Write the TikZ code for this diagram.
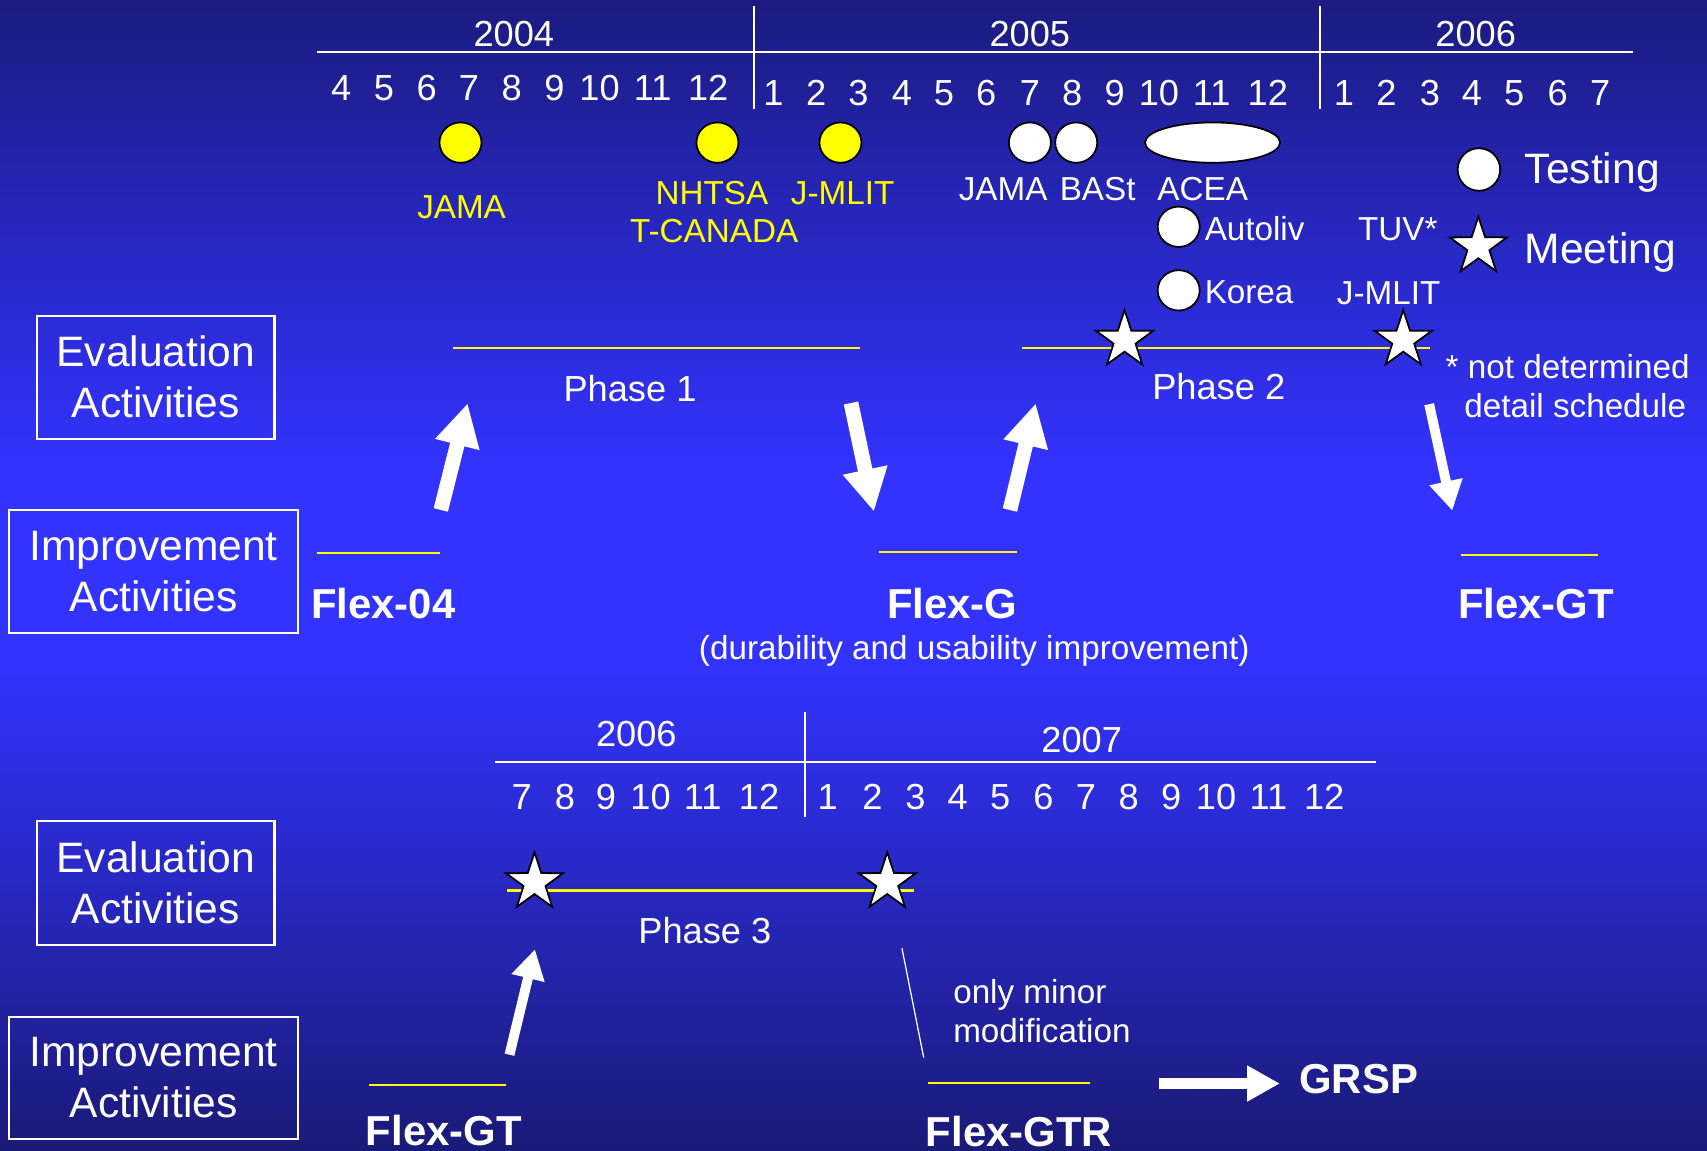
\documentclass[tikz,border=0pt]{standalone}
\usepackage{fontspec}
\setmainfont{Liberation Sans}
\usepackage{xcolor}
\usetikzlibrary{arrows.meta,shapes.geometric}
\definecolor{bgtop}{HTML}{1B1B80}
\definecolor{bgmid}{HTML}{3333FF}
\definecolor{bgbot}{HTML}{1A1A78}
\definecolor{tyellow}{HTML}{FFFF00}
\tikzset{
  yr/.style={text=white, font=\fontsize{10.3}{12}\selectfont, anchor=base, inner sep=0pt},
  org/.style={font=\fontsize{9.45}{11}\selectfont, anchor=base, inner sep=0pt},
  legend/.style={text=white, font=\fontsize{12.1}{14.5}\selectfont, anchor=base west, inner sep=0pt},
  flex/.style={text=white, font=\bfseries\fontsize{11.9}{14}\selectfont, anchor=base, inner sep=0pt},
  actbox/.style={draw=white, line width=0.6pt, text=white, align=center, inner sep=0pt,
    font=\fontsize{12.1}{14.5}\selectfont},
  testdot/.style={ellipse, draw=black, line width=0.5pt, fill=white, inner sep=0pt,
    minimum width=0.42cm, minimum height=0.403cm},
  meetstar/.style={star, star points=5, star point ratio=2.6, draw=black, fill=white,
    line width=0.5pt, inner sep=0pt, minimum size=0.601cm},
  rule/.style={draw=white, line width=0.45pt},
  bar/.style={draw=tyellow, line width=0.6pt},
  bigarrow/.style={draw=white, line width=4.18pt, -{Triangle[length=12.1pt, width=12.1pt]}},
  smallarrow/.style={draw=white, line width=2.8pt, -{Triangle[length=8.4pt, width=9.1pt]}}
}
\begin{document}
\begin{tikzpicture}[x=0.010887cm, y=-0.010887cm]
\useasboundingbox (0,0) rectangle (1568,1057);
\shade[top color=bgtop, bottom color=bgmid] (0,0) rectangle (1568,430);
\fill[bgmid] (0,430) rectangle (1568,610);
\shade[top color=bgmid, bottom color=bgbot] (0,610) rectangle (1568,1057);

% first schedule
\node[yr] (y2004) at (472,43) {2004};
\node[yr] (y2005) at (946,43) {2005};
\node[yr] (y2006) at (1355.5,43) {2006};
\draw[rule] (291,48) -- (1500,48);
\draw[rule] (692.7,5.5) -- (692.7,100);
\draw[rule] (1212.5,5.5) -- (1212.5,100);
\foreach \m/\x in {4/313.5,5/352.7,6/392,7/430.8,8/470,9/509.4,10/550.7,11/599.6,12/650.5}
  \node[yr] (ma\m) at (\x,92.5) {\m};
\foreach \m/\x in {1/710.5,2/749.8,3/788.5,4/828.5,5/867,6/906,7/946,8/985,9/1024,10/1064.6,11/1113,12/1164.6}
  \node[yr] (mb\m) at (\x,96.5) {\m};
\foreach \m/\x in {1/1234.5,2/1273.6,3/1313.6,4/1352,5/1391,6/1430.8,7/1470}
  \node[yr] (mc\m) at (\x,96.5) {\m};

\node[testdot, fill=tyellow] (tJAMA) at (423,131) {};
\node[testdot, fill=tyellow] (tNHTSA) at (659,131) {};
\node[testdot, fill=tyellow] (tJMLIT) at (772,131) {};
\node[testdot] (tJAMAb) at (946,131) {};
\node[testdot] (tBASt) at (988.6,131) {};
\node[testdot, minimum width=1.35cm] (tACEA) at (1113.8,131) {};
\node[testdot] (tAutoliv) at (1082.7,208.3) {};
\node[testdot] (tKorea) at (1082.7,266.7) {};
\node[org, text=tyellow] (lJAMA) at (424,200.5) {JAMA};
\node[org, text=tyellow] (lNHTSA) at (654,187.4) {NHTSA};
\node[org, text=tyellow] (lTCANADA) at (656,223.2) {T-CANADA};
\node[org, text=tyellow] (lJMLIT) at (774,187.4) {J-MLIT};
\node[org, text=white] (lJAMAb) at (921.5,184.6) {JAMA};
\node[org, text=white] (lBASt) at (1008.3,184.6) {BASt};
\node[org, text=white] (lACEA) at (1104.8,184.6) {ACEA};
\node[org, text=white, anchor=base west] (lAutoliv) at (1106,220.5) {Autoliv};
\node[org, text=white, anchor=base west] (lKorea) at (1106,278.6) {Korea};
\node[org, text=white] (lTUV) at (1284,221) {TUV*};
\node[org, text=white] (lJMLITb) at (1275.6,280) {J-MLIT};

\node[testdot, minimum width=0.425cm, minimum height=0.425cm] (kTest) at (1358.5,155.7) {};
\node[legend] (kTestTxt) at (1400,168.5) {Testing};
\node[meetstar] (kMeet) at (1358,226.6) {};
\node[legend] (kMeetTxt) at (1400,242.2) {Meeting};
\node[org, text=white] (note1) at (1440,348) {* not determined};
\node[org, text=white] (note2) at (1447,383.3) {detail schedule};

\node[actbox, minimum width=2.37cm, minimum height=1.23cm] (evalA) at (143.2,346.5) {Evaluation\\Activities};
\node[actbox, minimum width=2.885cm, minimum height=1.225cm] (imprA) at (141.1,524.8) {Improvement\\Activities};

\draw[bar] (416,320) -- (790,320);
\draw[bar] (938.7,320) -- (1313.6,320);
\node[meetstar] (s1) at (1033,312.4) {};
\node[meetstar] (s2) at (1289,312.4) {};
\node[yr] (ph1) at (578.7,369) {Phase 1};
\node[yr] (ph2) at (1119.5,367.4) {Phase 2};

\draw[bar] (291,507.6) -- (404.6,507.6);
\draw[bar] (807.4,507.3) -- (933.8,507.3);
\draw[bar] (1342,509.5) -- (1468,509.5);
\node[flex] (f04) at (352,568) {Flex-04};
\node[flex] (fG) at (874.7,568) {Flex-G};
\node[flex] (fGT) at (1410.9,568) {Flex-GT};
\node[org, text=white] (fGnote) at (894.9,606.2) {(durability and usability improvement)};

\coordinate (a1s) at (404.9,468.4); \coordinate (a1e) at (429.6,370.4);
\coordinate (a2s) at (781.7,370.2); \coordinate (a2e) at (802.8,470);
\coordinate (a3s) at (927.7,468.5); \coordinate (a3e) at (951.4,370.5);
\coordinate (a4s) at (1312.8,371.3); \coordinate (a4e) at (1334,469);
\draw[bigarrow] (a1s) -- (a1e);
\draw[bigarrow] (a2s) -- (a2e);
\draw[bigarrow] (a3s) -- (a3e);
\draw[smallarrow] (a4s) -- (a4e);

% second schedule
\node[yr] (z2006) at (584.5,685.8) {2006};
\node[yr] (z2007) at (993.6,691.3) {2007};
\draw[rule] (455,700.2) -- (1264,700.2);
\draw[rule] (739.7,654.3) -- (739.7,750.2);
\foreach \m/\x in {7/479.2,8/519,9/556.7,10/597.6,11/645.4,12/697.3}
  \node[yr] (md\m) at (\x,743.4) {\m};
\foreach \m/\x in {1/760.3,2/801.3,3/841,4/879.7,5/918.8,6/958.4,7/997.5,8/1036.7,9/1075.9,10/1117,11/1165.2,12/1216.4}
  \node[yr] (me\m) at (\x,743.4) {\m};

\node[actbox, minimum width=2.37cm, minimum height=1.241cm] (evalB) at (143.2,811) {Evaluation\\Activities};
\node[actbox, minimum width=2.885cm, minimum height=1.225cm] (imprB) at (141.1,990.2) {Improvement\\Activities};

\draw[bar] (466,818) -- (840,818);
\node[meetstar] (s3) at (491,810.6) {};
\node[meetstar] (s4) at (815,810.6) {};
\node[yr] (ph3) at (647.5,866.5) {Phase 3};

\draw[bar] (339,996.6) -- (465,996.6);
\draw[bar] (852,994.5) -- (1001.6,994.5);
\node[flex] (fGTb) at (407.6,1052.5) {Flex-GT};
\node[flex] (fGTR) at (936,1053.5) {Flex-GTR};
\node[flex] (grsp) at (1248,1004.2) {GRSP};
\node[org, text=white, anchor=base west] (minor1) at (875,922) {only minor};
\node[org, text=white, anchor=base west] (minor2) at (875,957.5) {modification};

\coordinate (a5s) at (468,968.8); \coordinate (a5e) at (491.4,872);
\coordinate (m1) at (828.5,871); \coordinate (m2) at (848.5,971.5);
\coordinate (g1) at (1064.3,995.3); \coordinate (g2) at (1175.7,995.3);
\draw[smallarrow] (a5s) -- (a5e);
\draw[draw=white, line width=0.35pt] (m1) -- (m2);
\draw[draw=white, line width=3.25pt, -{Triangle[length=9.3pt, width=9.6pt]}] (g1) -- (g2);
\end{tikzpicture}
\end{document}
